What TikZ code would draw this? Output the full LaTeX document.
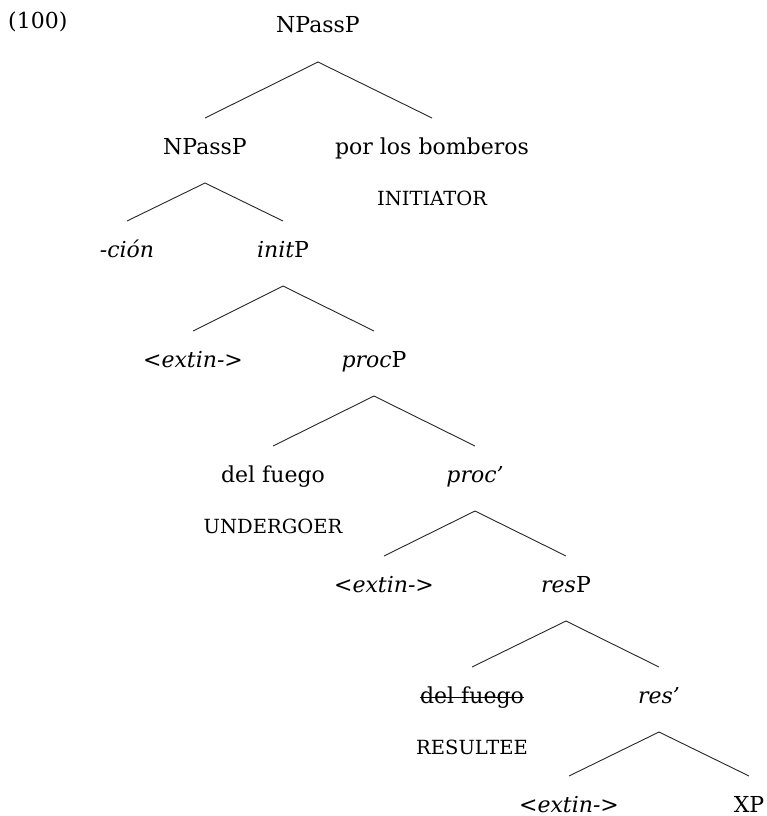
\documentclass[tikz,border=0pt]{standalone}
\usepackage{fontspec}
\setmainfont{DejaVu Serif}
\usepackage{tikz}
\usetikzlibrary{calc,positioning}
\tikzset{
  lbl/.style={anchor=base,inner sep=0pt},
  role/.style={anchor=base,inner sep=0pt,font=\fontsize{19.5}{23}\selectfont},
  branch/.style={line width=0.9pt,black!85}
}

\begin{document}
\begin{tikzpicture}[x=1pt,y=-1pt,font=\fontsize{22}{27}\selectfont]
  \useasboundingbox (0,0) rectangle (767,816);
  % example number
  \node[lbl,anchor=base west] (exno) at (8,29) {(100)};
  % tree labels
  \node[lbl] (top) at (318,33) {NPassP};
  \node[lbl] (npass) at (205,154) {NPassP};
  \node[lbl] (por) at (432,154) {por los bomberos};
  \node[role] (initr) at (432,205) {INITIATOR};
  \node[lbl] (cion) at (127,257) {\textit{-ción}};
  \node[lbl] (initp) at (283,257) {\textit{init}P};
  \node[lbl] (extA) at (193,367) {\textit{<extin->}};
  \node[lbl] (procp) at (374,367) {\textit{proc}P};
  \node[lbl] (fuegoA) at (273,482) {del fuego};
  \node[role] (undr) at (273,533) {UNDERGOER};
  \node[lbl] (procbar) at (475,482) {\textit{proc’}};
  \node[lbl] (extB) at (384,592) {\textit{<extin->}};
  \node[lbl] (resp) at (566,592) {\textit{res}P};
  \node[lbl] (fuegoB) at (472,703) {del fuego};
  \node[role] (rslt) at (472,754) {RESULTEE};
  \node[lbl] (resbar) at (659,703) {\textit{res’}};
  \node[lbl] (extC) at (569,812) {\textit{<extin->}};
  \node[lbl] (xp) at (749,812) {XP};
  % strike-through on the lower copy
  \draw[line width=0.9pt] ($(fuegoB.base west)+(0,-6)$) -- ($(fuegoB.base east)+(0,-6)$);
  % branches
  \foreach \p/\a/\b in {top/npass/por, npass/cion/initp, initp/extA/procp,
      procp/fuegoA/procbar, procbar/extB/resp, resp/fuegoB/resbar,
      resbar/extC/xp}
    \draw[branch] ($(\a.base)+(0,-36)$) -- ($(\p.base)+(0,29)$)
      -- ($(\b.base)+(0,-36)$);
\end{tikzpicture}
\end{document}
